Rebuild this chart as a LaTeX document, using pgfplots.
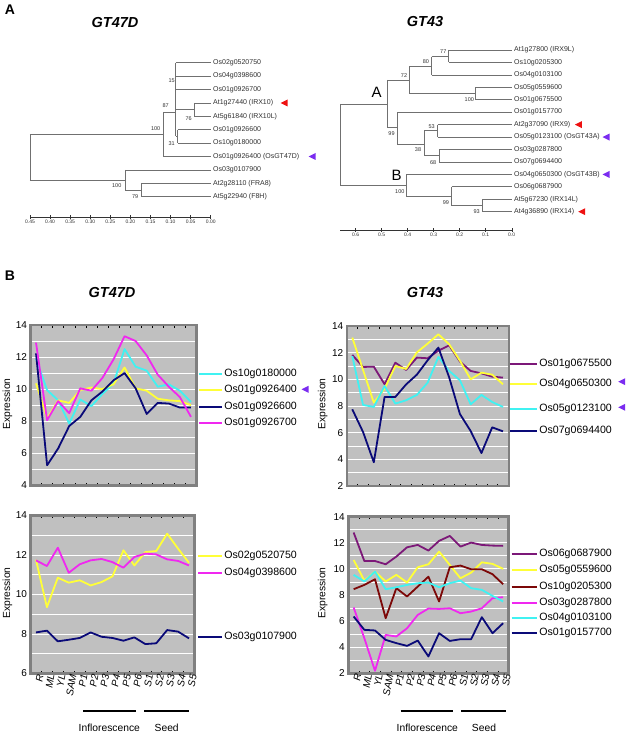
\documentclass[border=0pt]{standalone}
\usepackage{fontspec}
\setmainfont{Liberation Sans}
\usepackage{pgfplots}
\pgfplotsset{compat=1.18}
\definecolor{cbg}{HTML}{C0C0C0}
\definecolor{cframe}{HTML}{808080}
\definecolor{ccyan}{HTML}{40F2F2}
\definecolor{cyel}{HTML}{FFFF38}
\definecolor{cnavy}{HTML}{0A0A78}
\definecolor{cmag}{HTML}{F028F0}
\definecolor{cpur}{HTML}{7C1878}
\definecolor{cdred}{HTML}{7C0808}
\definecolor{tripur}{HTML}{7B2CF0}
\definecolor{trired}{HTML}{EE1111}
\definecolor{ctree}{HTML}{707070}
\definecolor{ctxt}{HTML}{303030}
\newcommand{\fs}[1]{\fontsize{#1}{#1}\selectfont}
\newcommand{\trl}[1]{\addplot[tline] coordinates {#1};}
\newcommand{\lf}[2]{\node[anchor=west, font=\fs{7}, text=ctxt, inner sep=0pt, xshift=2.3pt] at (axis cs:0,-#1) {#2};}
\newcommand{\bs}[3]{\node[font=\fs{5.5}, text=ctxt, inner sep=0pt] at (axis cs:#1,-#2) {#3};}
\newcommand{\tri}[3]{\fill[#1] ({#2pt-3.5pt},{-#3pt}) -- ++(7pt,3.5pt) -- ++(0pt,-7pt) -- cycle;}
\newcommand{\leg}[5]{\draw[#1, line width=1.8pt] (#2pt,-#4pt) -- (#3pt,-#4pt);
  \node[anchor=west, font=\fs{10.6}, inner sep=0pt] at ({#3pt+2.5pt},-#4pt) {#5};}
\pgfplotsset{
  tline/.style={ctree, line width=0.7pt},
  tree/.style={
    scale only axis, clip=false,
    axis y line=none, axis x line=bottom,
    x dir=reverse,
    x axis line style={-, black!80, line width=0.4pt},
    every outer x axis line/.append style={-},
    tick align=center, major tick length=3.5pt,
    xtick style={black!80, line width=0.4pt},
    xticklabel style={font=\fs{5}, text=ctxt, inner sep=1pt},
    /pgf/number format/assume math mode=true,
    scaled x ticks=false,
  },
  expr/.style={
    scale only axis, xmin=-0.5, xmax=14.5,
    axis background/.style={fill=cbg},
    axis line style={draw=cframe, line width=2.4pt},
    ytick distance=2, minor y tick num=1,
    ymajorgrids, yminorgrids,
    major grid style={white, line width=0.7pt},
    minor grid style={white, line width=0.7pt},
    xtick={0,...,14},
    minor xtick={0.5,1.5,...,13.5},
    major tick length=0pt, minor tick length=2.5pt,
    minor x tick style={black, line width=0.5pt},
    minor y tick style={draw=none},
    tick label style={font=\fs{10}},
    /pgf/number format/assume math mode=true,
    xticklabels={},
    every axis plot/.append style={line width=1.8pt, mark=none, line join=round},
  },
  bottomx/.style={
    xticklabels={R,ML,YL,SAM,P1,P2,P3,P4,P5,P6,S1,S2,S3,S4,S5},
    xticklabel style={rotate=80, anchor=east, font=\fs{10}\itshape, inner sep=1pt, yshift=-4.5pt, xshift=1pt},
  },
}
\begin{document}
\begin{tikzpicture}
\path[use as bounding box] (0pt,0pt) rectangle (629pt,-735pt);
% ---------- panel labels and titles
\node[font=\fs{14}\bfseries] at (10pt,-10pt) {A};
\node[font=\fs{14}\bfseries] at (10pt,-276pt) {B};
\node[font=\fs{14.5}\bfseries\itshape] at (115pt,-23pt) {GT47D};
\node[font=\fs{14.5}\bfseries\itshape] at (425pt,-22pt) {GT43};
\node[font=\fs{14.5}\bfseries\itshape] at (112pt,-293pt) {GT47D};
\node[font=\fs{14.5}\bfseries\itshape] at (425pt,-293pt) {GT43};

% ---------- tree GT47D
\begin{axis}[tree, at={(30pt,-217pt)}, anchor=south west,
  width=180.7pt, height=177pt, xmin=0, xmax=0.45, ymin=-217, ymax=-40,
  xtick={0,0.05,0.1,0.15,0.2,0.25,0.3,0.35,0.4,0.45},
  xticklabel style={/pgf/number format/fixed, /pgf/number format/fixed zerofill, /pgf/number format/precision=2}]
\trl{(0.45,-134.3) (0.45,-180.3)}
\trl{(0.45,-134.3) (0.118,-134.3)}
\trl{(0.118,-112) (0.118,-156.5)}
\trl{(0.118,-156.5) (0,-156.5)}
\trl{(0.118,-112) (0.087,-112)}
\trl{(0.087,-62.7) (0.087,-136.4)}
\trl{(0.087,-62.7) (0,-62.7)}
\trl{(0.087,-76.1) (0,-76.1)}
\trl{(0.087,-89.5) (0,-89.5)}
\trl{(0.087,-109.6) (0.041,-109.6)}
\trl{(0.041,-102.9) (0.041,-116.3)}
\trl{(0.041,-102.9) (0,-102.9)}
\trl{(0.041,-116.3) (0,-116.3)}
\trl{(0.087,-136.4) (0.082,-136.4)}
\trl{(0.082,-129.7) (0.082,-143.1)}
\trl{(0.082,-129.7) (0,-129.7)}
\trl{(0.082,-143.1) (0,-143.1)}
\trl{(0.45,-180.3) (0.213,-180.3)}
\trl{(0.213,-169.9) (0.213,-190)}
\trl{(0.213,-169.9) (0,-169.9)}
\trl{(0.213,-190) (0.172,-190)}
\trl{(0.172,-183.3) (0.172,-196.7)}
\trl{(0.172,-183.3) (0,-183.3)}
\trl{(0.172,-196.7) (0,-196.7)}
\lf{62.7}{Os02g0520750}
\lf{76.1}{Os04g0398600}
\lf{89.5}{Os01g0926700}
\lf{102.9}{At1g27440 (IRX10)}
\lf{116.3}{At5g61840 (IRX10L)}
\lf{129.7}{Os01g0926600}
\lf{143.1}{Os10g0180000}
\lf{156.5}{Os01g0926400 (OsGT47D)}
\lf{169.9}{Os03g0107900}
\lf{183.3}{At2g28110 (FRA8)}
\lf{196.7}{At5g22940 (F8H)}
\bs{0.137}{129}{100}
\bs{0.112}{106}{87}
\bs{0.097}{81}{15}
\bs{0.055}{118.3}{76}
\bs{0.097}{143.3}{31}
\bs{0.234}{185.3}{100}
\bs{0.188}{196.7}{79}
\end{axis}

% ---------- tree GT43
\begin{axis}[tree, at={(340pt,-230pt)}, anchor=south west,
  width=171.7pt, height=190pt, xmin=0, xmax=0.66, ymin=-230, ymax=-40,
  xtick={0,0.1,0.2,0.3,0.4,0.5,0.6},
  xticklabel style={/pgf/number format/fixed, /pgf/number format/fixed zerofill, /pgf/number format/precision=1}]
\trl{(0.66,-104) (0.66,-185.7)}
\trl{(0.66,-104) (0.477,-104)}
\trl{(0.477,-80) (0.477,-127.7)}
\trl{(0.477,-80) (0.394,-80)}
\trl{(0.394,-66.3) (0.394,-93.7)}
\trl{(0.394,-66.3) (0.308,-66.3)}
\trl{(0.308,-56.7) (0.308,-74.88)}
\trl{(0.308,-56.7) (0.242,-56.7)}
\trl{(0.242,-50) (0.242,-62.44)}
\trl{(0.242,-50) (0,-50)}
\trl{(0.242,-62.44) (0,-62.44)}
\trl{(0.308,-74.88) (0,-74.88)}
\trl{(0.394,-93.7) (0.14,-93.7)}
\trl{(0.14,-87.32) (0.14,-99.76)}
\trl{(0.14,-87.32) (0,-87.32)}
\trl{(0.14,-99.76) (0,-99.76)}
\trl{(0.477,-127.7) (0.44,-127.7)}
\trl{(0.44,-112.2) (0.44,-144)}
\trl{(0.44,-112.2) (0,-112.2)}
\trl{(0.44,-144) (0.337,-144)}
\trl{(0.337,-130.7) (0.337,-155.7)}
\trl{(0.337,-130.7) (0.285,-130.7)}
\trl{(0.285,-124.64) (0.285,-137.08)}
\trl{(0.285,-124.64) (0,-124.64)}
\trl{(0.285,-137.08) (0,-137.08)}
\trl{(0.337,-155.7) (0.28,-155.7)}
\trl{(0.28,-149.52) (0.28,-161.96)}
\trl{(0.28,-149.52) (0,-149.52)}
\trl{(0.28,-161.96) (0,-161.96)}
\trl{(0.66,-185.7) (0.404,-185.7)}
\trl{(0.404,-174.4) (0.404,-196.7)}
\trl{(0.404,-174.4) (0,-174.4)}
\trl{(0.404,-196.7) (0.231,-196.7)}
\trl{(0.231,-186.84) (0.231,-205.7)}
\trl{(0.231,-186.84) (0,-186.84)}
\trl{(0.231,-205.7) (0.112,-205.7)}
\trl{(0.112,-199.28) (0.112,-211.72)}
\trl{(0.112,-199.28) (0,-199.28)}
\trl{(0.112,-211.72) (0,-211.72)}
\lf{50}{At1g27800 (IRX9L)}
\lf{62.44}{Os10g0205300}
\lf{74.88}{Os04g0103100}
\lf{87.32}{Os05g0559600}
\lf{99.76}{Os01g0675500}
\lf{112.2}{Os01g0157700}
\lf{124.64}{At2g37090 (IRX9)}
\lf{137.08}{Os05g0123100 (OsGT43A)}
\lf{149.52}{Os03g0287800}
\lf{161.96}{Os07g0694400}
\lf{174.4}{Os04g0650300 (OsGT43B)}
\lf{186.84}{Os06g0687900}
\lf{199.28}{At5g67230 (IRX14L)}
\lf{211.72}{At4g36890 (IRX14)}
\bs{0.263}{51.7}{77}
\bs{0.330}{61.3}{80}
\bs{0.414}{75.7}{72}
\bs{0.163}{100}{100}
\bs{0.462}{133.7}{99}
\bs{0.308}{126.7}{53}
\bs{0.360}{149.7}{38}
\bs{0.302}{162.7}{68}
\bs{0.430}{191.7}{100}
\bs{0.253}{202.7}{99}
\bs{0.135}{212}{93}
\node[font=\fs{15}] at (axis cs:0.519,-92.7) {A};
\node[font=\fs{15}] at (axis cs:0.442,-175) {B};
\end{axis}

% triangles for panel A
\tri{trired}{284}{103}
\tri{tripur}{312}{156.5}
\tri{trired}{578.3}{124.6}
\tri{tripur}{606}{137.1}
\tri{tripur}{606}{174.4}
\tri{trired}{581.7}{211.7}

% ---------- chart 1 (GT47D top)
\begin{axis}[expr, at={(30.5pt,-485.3pt)}, anchor=south west,
  width=166pt, height=160.3pt, ymin=4, ymax=14]
\addplot[ccyan] coordinates {(0,11.9) (1,9.94) (2,9.3) (3,7.85) (4,9.35) (5,8.94) (6,9.7) (7,10.35) (8,12.5) (9,11.4) (10,11.15) (11,10.15) (12,10.3) (13,9.9) (14,9.2)};
\addplot[cyel] coordinates {(0,10.36) (1,8.17) (2,9.3) (3,9.14) (4,9.94) (5,10.1) (6,10.0) (7,10.3) (8,11.35) (9,10.05) (10,9.9) (11,9.4) (12,9.3) (13,9.25) (14,9.0)};
\addplot[cnavy] coordinates {(0,12.23) (1,5.25) (2,6.3) (3,7.7) (4,8.27) (5,9.3) (6,9.85) (7,10.55) (8,11.0) (9,10.05) (10,8.45) (11,9.14) (12,9.1) (13,8.85) (14,8.85)};
\addplot[cmag] coordinates {(0,12.9) (1,8.06) (2,9.25) (3,8.5) (4,10.05) (5,9.9) (6,10.7) (7,11.85) (8,13.3) (9,13.0) (10,12.1) (11,10.9) (12,10.15) (13,9.5) (14,8.27)};
\end{axis}

% ---------- chart 2 (GT43 top)
\begin{axis}[expr, at={(346.8pt,-486pt)}, anchor=south west,
  width=162.4pt, height=160pt, ymin=2, ymax=14, xmin=-0.51, xmax=14.58]
\addplot[cpur] coordinates {(0,11.83) (1,10.93) (2,10.95) (3,9.63) (4,11.25) (5,10.7) (6,11.63) (7,11.58) (8,12.15) (9,12.55) (10,11.33) (11,10.63) (12,10.45) (13,10.2) (14,10.13)};
\addplot[cyel] coordinates {(0,13.13) (1,10.7) (2,8.25) (3,9.3) (4,11.0) (5,10.78) (6,12.02) (7,12.68) (8,13.38) (9,12.63) (10,11.4) (11,10.0) (12,10.5) (13,10.35) (14,9.63)};
\addplot[ccyan] coordinates {(0,11.75) (1,8.08) (2,7.93) (3,9.5) (4,8.18) (5,8.43) (6,8.83) (7,9.75) (8,11.68) (9,10.63) (10,9.93) (11,8.13) (12,8.83) (13,8.3) (14,7.93)};
\addplot[cnavy] coordinates {(0,7.75) (1,6.05) (2,3.78) (3,8.68) (4,8.68) (5,9.62) (6,10.35) (7,11.43) (8,12.38) (9,10.15) (10,7.4) (11,6.12) (12,4.47) (13,6.4) (14,6.1)};
\end{axis}

% ---------- chart 3 (GT47D bottom)
\begin{axis}[expr, bottomx, at={(30.5pt,-673.5pt)}, anchor=south west,
  width=164pt, height=158pt, ymin=6, ymax=14]
\addplot[cyel] coordinates {(0,11.76) (1,9.36) (2,10.85) (3,10.6) (4,10.72) (5,10.46) (6,10.63) (7,10.92) (8,12.24) (9,11.47) (10,12.15) (11,12.2) (12,13.08) (13,12.32) (14,11.6)};
\addplot[cmag] coordinates {(0,11.73) (1,11.44) (2,12.37) (3,11.1) (4,11.53) (5,11.73) (6,11.8) (7,11.64) (8,11.36) (9,11.9) (10,12.07) (11,12.03) (12,11.78) (13,11.7) (14,11.47)};
\addplot[cnavy] coordinates {(0,8.08) (1,8.17) (2,7.63) (3,7.71) (4,7.8) (5,8.08) (6,7.86) (7,7.8) (8,7.66) (9,7.83) (10,7.49) (11,7.53) (12,8.2) (13,8.12) (14,7.78)};
\end{axis}

% ---------- chart 4 (GT43 bottom)
\begin{axis}[expr, bottomx, at={(348.3pt,-673.3pt)}, anchor=south west,
  width=160.2pt, height=156.7pt, ymin=2, ymax=14]
\addplot[cpur] coordinates {(0,12.78) (1,10.6) (2,10.6) (3,10.35) (4,10.94) (5,11.65) (6,11.83) (7,11.4) (8,12.14) (9,12.52) (10,11.7) (11,12.01) (12,11.83) (13,11.78) (14,11.76)};
\addplot[cyel] coordinates {(0,10.68) (1,9.1) (2,9.79) (3,9.03) (4,9.54) (5,8.95) (6,10.12) (7,10.35) (8,11.32) (9,10.3) (10,9.28) (11,9.71) (12,10.5) (13,10.38) (14,10.0)};
\addplot[cdred] coordinates {(0,8.44) (1,8.77) (2,9.2) (3,6.22) (4,8.52) (5,7.88) (6,8.64) (7,9.4) (8,7.5) (9,10.12) (10,10.25) (11,9.97) (12,9.97) (13,9.59) (14,8.82)};
\addplot[cmag] coordinates {(0,7.04) (1,4.69) (2,2.19) (3,4.94) (4,4.82) (5,5.45) (6,6.47) (7,6.96) (8,6.93) (9,6.98) (10,6.6) (11,6.73) (12,6.98) (13,7.75) (14,7.83)};
\addplot[ccyan] coordinates {(0,9.54) (1,9.03) (2,9.79) (3,8.44) (4,8.59) (5,8.77) (6,8.9) (7,8.95) (8,8.59) (9,8.9) (10,9.1) (11,8.52) (12,8.39) (13,7.93) (14,7.5)};
\addplot[cnavy] coordinates {(0,6.35) (1,5.33) (2,5.28) (3,4.56) (4,4.31) (5,4.1) (6,4.51) (7,3.29) (8,5.07) (9,4.48) (10,4.61) (11,4.61) (12,6.3) (13,5.07) (14,5.84)};
\end{axis}

% ---------- y labels
\node[rotate=90, font=\fs{10.3}] at (7.5pt,-404pt) {Expression};
\node[rotate=90, font=\fs{10.3}] at (322.7pt,-404pt) {Expression};
\node[rotate=90, font=\fs{10.3}] at (7.5pt,-593pt) {Expression};
\node[rotate=90, font=\fs{10.3}] at (322.7pt,-593pt) {Expression};

% ---------- legends
\leg{ccyan}{199}{221.7}{374}{Os10g0180000}
\leg{cyel}{199}{221.7}{390}{Os01g0926400}
\leg{cnavy}{199}{221.7}{406.7}{Os01g0926600}
\leg{cmag}{199}{221.7}{423.3}{Os01g0926700}
\tri{tripur}{305}{389.3}

\leg{cpur}{510}{536.7}{364}{Os01g0675500}
\leg{cyel}{510}{536.7}{384}{Os04g0650300}
\leg{ccyan}{510}{536.7}{409.3}{Os05g0123100}
\leg{cnavy}{510}{536.7}{431}{Os07g0694400}
\tri{tripur}{621.7}{381.7}
\tri{tripur}{621.7}{407.3}

\leg{cyel}{198}{221.7}{556}{Os02g0520750}
\leg{cmag}{198}{221.7}{573.3}{Os04g0398600}
\leg{cnavy}{198}{221.7}{636.7}{Os03g0107900}

\leg{cpur}{511.7}{536.7}{554}{Os06g0687900}
\leg{cyel}{511.7}{536.7}{570}{Os05g0559600}
\leg{cdred}{511.7}{536.7}{587}{Os10g0205300}
\leg{cmag}{511.7}{536.7}{602.7}{Os03g0287800}
\leg{ccyan}{511.7}{536.7}{617.7}{Os04g0103100}
\leg{cnavy}{511.7}{536.7}{632.7}{Os01g0157700}

% ---------- tissue bars
\draw[black, line width=1.8pt] (83.3pt,-710.7pt) -- (136pt,-710.7pt);
\draw[black, line width=1.8pt] (144pt,-710.7pt) -- (189pt,-710.7pt);
\node[font=\fs{10.3}] at (109.3pt,-728.3pt) {Inflorescence};
\node[font=\fs{10.3}] at (166.7pt,-728.3pt) {Seed};
\draw[black, line width=1.8pt] (400.7pt,-710.7pt) -- (453.3pt,-710.7pt);
\draw[black, line width=1.8pt] (461pt,-710.7pt) -- (506pt,-710.7pt);
\node[font=\fs{10.3}] at (427.3pt,-728.3pt) {Inflorescence};
\node[font=\fs{10.3}] at (484pt,-728.3pt) {Seed};
\end{tikzpicture}
\end{document}
